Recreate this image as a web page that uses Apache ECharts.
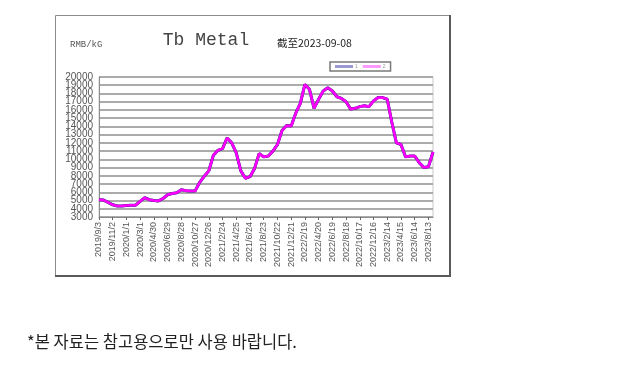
<!DOCTYPE html>
<html>
<head>
<meta charset="utf-8">
<script src="https://cdn.jsdelivr.net/npm/echarts@6/dist/echarts.min.js"></script>
<style>
html,body{margin:0;padding:0;background:#fff;}
#c{width:632px;height:367px;}
</style>
</head>
<body>
<div id="c"></div>
<script>
const categories = [
 '2019/9/3','2019/9/23','2019/10/13','2019/11/2','2019/11/22','2019/12/12',
 '2020/1/1','2020/1/21','2020/2/10','2020/3/1','2020/3/21','2020/4/10',
 '2020/4/30','2020/5/20','2020/6/9','2020/6/29','2020/7/19','2020/8/8',
 '2020/8/28','2020/9/17','2020/10/7','2020/10/27','2020/11/16','2020/12/6',
 '2020/12/26','2021/1/15','2021/2/4','2021/2/24','2021/3/16','2021/4/5',
 '2021/4/25','2021/5/15','2021/6/4','2021/6/24','2021/7/14','2021/8/3',
 '2021/8/23','2021/9/12','2021/10/2','2021/10/22','2021/11/11','2021/12/1',
 '2021/12/21','2022/1/10','2022/1/30','2022/2/19','2022/3/11','2022/3/31',
 '2022/4/20','2022/5/10','2022/5/30','2022/6/19','2022/7/9','2022/7/29',
 '2022/8/18','2022/9/7','2022/9/27','2022/10/17','2022/11/6','2022/11/26',
 '2022/12/16','2023/1/5','2023/1/25','2023/2/14','2023/3/6','2023/3/26',
 '2023/4/15','2023/5/5','2023/5/25','2023/6/14','2023/7/4','2023/7/24',
 '2023/8/13','2023/9/8'
];
const tbPrice = [
 5100,5050,4780,4480,4330,4350,4400,4420,4430,4900,
 5350,5100,5000,4950,5250,5700,5850,5950,6300,6200,
 6150,6150,7200,7950,8600,10500,11100,11300,12600,12000,
 10800,8600,7700,7900,8900,10700,10300,10400,11000,11800,
 13500,14100,14050,15600,16800,19100,18500,16200,17300,18300,
 18700,18300,17600,17400,17000,16100,16200,16400,16500,16400,
 17100,17500,17500,17300,14500,12000,11800,10300,10400,10400,
 9600,9000,9100,10900
];
const yMin = 3000, yMax = 20000, yStep = 1000;
const seriesNames = ['1', '2'];
const titleText = 'Tb Metal';
const dateText = '截至2023-09-08';
const unitText = 'RMB/kG';
const noteText = '*본 자료는 참고용으로만 사용 바랍니다.';

const yLabelStyle = {fontSize: 10, fontFamily: 'Liberation Sans', color: '#555', margin: 6};

const chart = echarts.init(document.getElementById('c'), null, {renderer: 'canvas'});
chart.setOption({
  animation: false,
  backgroundColor: '#ffffff',
  grid: {left: 99, top: 77, right: 199, bottom: 150, show: true, borderColor: '#c8c8c8', borderWidth: 1, backgroundColor: 'transparent'},
  legend: {
    left: 330, top: 62,
    padding: [2, 5], itemGap: 5,
    itemWidth: 18, itemHeight: 3,
    borderColor: '#7a7a7a', borderWidth: 1.5,
    icon: 'rect',
    textStyle: {fontSize: 5, color: '#999', padding: [0, 0, 0, -3]},
    data: [
      {name: seriesNames[0], itemStyle: {color: '#9a9ad0'}},
      {name: seriesNames[1], itemStyle: {color: '#ff99ff'}}
    ]
  },
  xAxis: {
    type: 'category',
    data: categories,
    boundaryGap: false,
    axisLine: {lineStyle: {color: '#8a8a8a', width: 1}},
    axisTick: {show: true, interval: 2, length: 3, lineStyle: {color: '#666'}},
    axisLabel: {interval: 2, rotate: 90, fontSize: 9, color: '#555', fontFamily: 'Liberation Sans', margin: 5},
    splitLine: {show: false}
  },
  yAxis: [
    {
      type: 'value', position: 'left',
      min: yMin, max: yMax, interval: yStep,
      axisLine: {show: true, lineStyle: {color: '#8a8a8a', width: 1}},
      axisTick: {show: false},
      axisLabel: Object.assign({formatter: v => String(v), showMinLabel: false, showMaxLabel: false, hideOverlap: false}, yLabelStyle),
      splitLine: {show: true, lineStyle: {color: '#ababab', width: 2}}
    },
    {
      type: 'value', position: 'left', offset: 0,
      min: yMin, max: yMax, interval: yStep,
      axisLine: {show: false}, axisTick: {show: false}, splitLine: {show: false},
      axisLabel: Object.assign({formatter: v => (v === yMin || v === yMax) ? String(v) : '', showMinLabel: true, showMaxLabel: true}, yLabelStyle)
    }
  ],
  series: [
    {name: seriesNames[0], type: 'line', data: tbPrice, showSymbol: false, symbol: 'none',
     lineStyle: {color: '#1a1a7a', width: 3}, itemStyle: {color: '#1a1a7a'}, z: 2},
    {name: seriesNames[1], type: 'line', data: tbPrice, showSymbol: false, symbol: 'none',
     lineStyle: {color: '#ff00ff', width: 2.6}, itemStyle: {color: '#ff00ff'}, z: 3}
  ],
  graphic: [
    {type: 'rect', shape: {x: 55.5, y: 15.5, width: 394, height: 260}, style: {fill: 'none', stroke: '#8c8c8c', lineWidth: 1}, z: 0},
    {type: 'line', shape: {x1: 450, y1: 15, x2: 450, y2: 277}, style: {stroke: '#5a5a5a', lineWidth: 2}},
    {type: 'line', shape: {x1: 55, y1: 276, x2: 451, y2: 276}, style: {stroke: '#5a5a5a', lineWidth: 2}},
    {type: 'text', x: 206, y: 40, style: {text: titleText, font: '18px "Liberation Mono"', fill: '#444', align: 'center', verticalAlign: 'middle'}},
    {type: 'text', x: 277, y: 43, style: {text: dateText, font: '10.5px "Noto Sans CJK SC"', fill: '#222', align: 'left', verticalAlign: 'middle'}},
    {type: 'text', x: 70, y: 45, style: {text: unitText, font: '9px "Liberation Mono"', fill: '#555', align: 'left', verticalAlign: 'middle'}},
    {type: 'text', x: 27, y: 342, style: {text: noteText, font: '16.5px "Noto Sans CJK KR"', fill: '#222', align: 'left', verticalAlign: 'middle'}}
  ]
});
</script>
</body>
</html>
